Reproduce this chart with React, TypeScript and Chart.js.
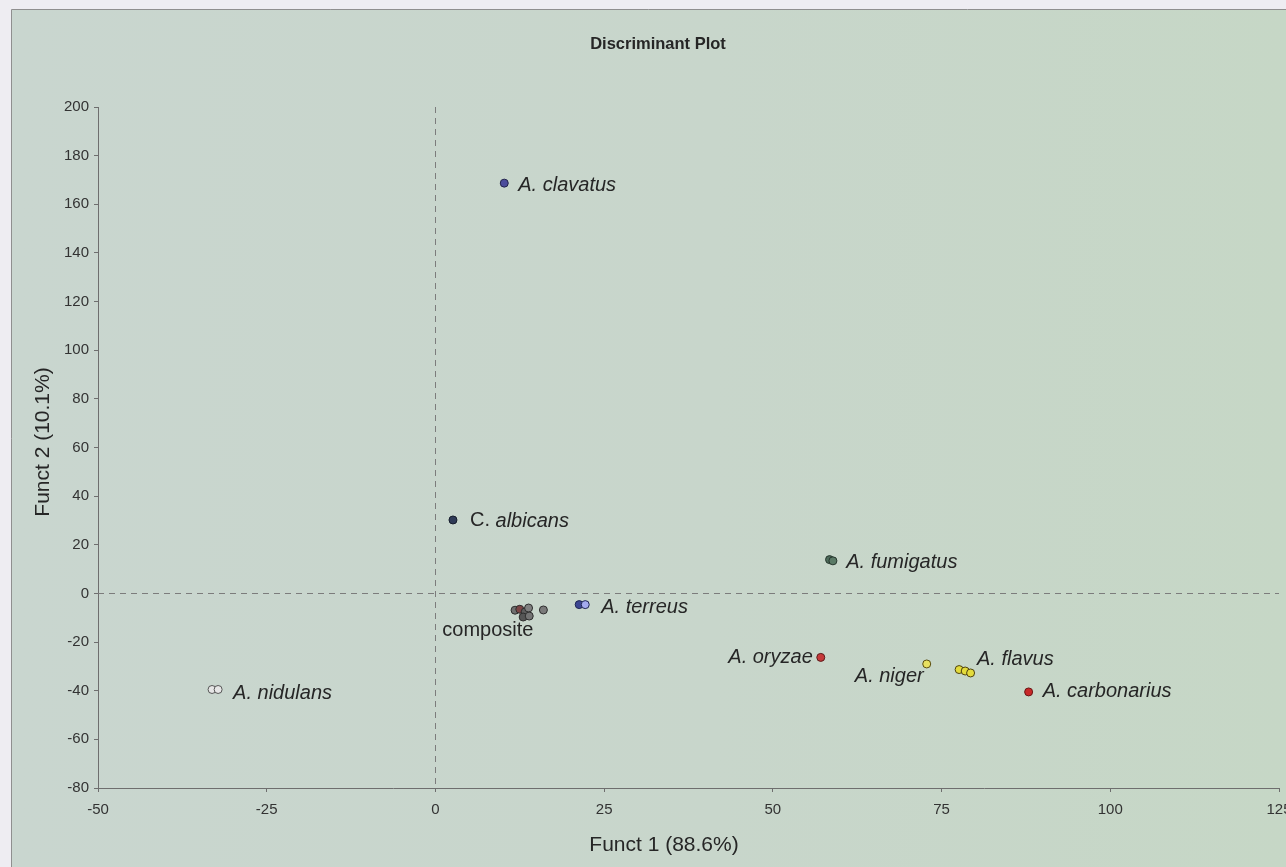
import { useEffect, useRef } from "react";
import { Chart, registerables } from "chart.js";

Chart.register(...registerables);

// Discriminant scores per group: Funct 1 (x) and Funct 2 (y)
const species = [
  "A. clavatus",
  "C. albicans",
  "A. fumigatus",
  "A. terreus",
  "composite",
  "A. nidulans",
  "A. oryzae",
  "A. niger",
  "A. flavus",
  "A. carbonarius",
];

const funct1: number[][] = [
  [10.2],
  [2.6],
  [58.4, 58.9],
  [21.3, 22.2],
  [11.8, 12.5, 13.3, 13.8, 13.0, 13.9, 16.0],
  [-33.1, -32.2],
  [57.1],
  [72.8],
  [77.6, 78.5, 79.3],
  [87.9],
];

const funct2: number[][] = [
  [168.7],
  [30.2],
  [13.9, 13.4],
  [-4.6, -4.6],
  [-6.9, -6.5, -7.6, -6.0, -9.7, -9.3, -6.8],
  [-39.5, -39.5],
  [-26.3],
  [-29.0],
  [-31.3, -31.9, -32.7],
  [-40.5],
];

const xTicks = [-50, -25, 0, 25, 50, 75, 100, 125];
const yTicks = [-80, -60, -40, -20, 0, 20, 40, 60, 80, 100, 120, 140, 160, 180, 200];

const chartTitle = "Discriminant Plot";
const xTitle = "Funct 1 (88.6%)";
const yTitle = "Funct 2 (10.1%)";

// Marker styling per group
const markerFill: string[][] = [
  ["#4b4c9c"],
  ["#2f3b57"],
  ["#4d6b5a", "#5a7a66"],
  ["#3c4692", "#a3aaee"],
  ["#6f6f6f", "#7a4646", "#5e5e5e", "#808080", "#555555", "#747474", "#7a7a7a"],
  ["#e6e6e6", "#e6e6e6"],
  ["#c63a3a"],
  ["#e8e060"],
  ["#e3db3c", "#e3db3c", "#e3db3c"],
  ["#c82828"],
];
const markerStroke = [
  "#23244c",
  "#161d2c",
  "#26362d",
  "#1f2655",
  "#2e2e2e",
  "#555555",
  "#5c1a1a",
  "#5a4c10",
  "#4e4210",
  "#6a1616",
];

// Label placement relative to each group's centroid (pixels)
const labelPlace: { dx: number; dy: number; align: CanvasTextAlign }[] = [
  { dx: 14, dy: 2, align: "left" },
  { dx: 17, dy: 1, align: "left" },
  { dx: 15, dy: 2.5, align: "left" },
  { dx: 19, dy: 2.5, align: "left" },
  { dx: -84, dy: 18.5, align: "left" },
  { dx: 18, dy: 4, align: "left" },
  { dx: -8, dy: 0.5, align: "right" },
  { dx: -3, dy: 12, align: "right" },
  { dx: 12, dy: -12, align: "left" },
  { dx: 14, dy: 0, align: "left" },
];

const FONT = "'Liberation Sans', Arial, Helvetica, sans-serif";
const TEXT = "#262626";

const backgroundPlugin = {
  id: "paperBackground",
  beforeDraw(chart: any) {
    const { ctx, width, height } = chart;
    ctx.save();
    ctx.fillStyle = "#eeedf2";
    ctx.fillRect(0, 0, width, height);
    const g = ctx.createLinearGradient(12, 0, width, 0);
    g.addColorStop(0, "#c9d6cf");
    g.addColorStop(0.55, "#c8d6cb");
    g.addColorStop(1, "#c6d7c6");
    ctx.fillStyle = g;
    ctx.fillRect(12, 10, width - 12, height - 10);
    ctx.strokeStyle = "#8f8f8f";
    ctx.lineWidth = 1;
    ctx.beginPath();
    ctx.moveTo(11.5, height);
    ctx.lineTo(11.5, 9.5);
    ctx.lineTo(width, 9.5);
    ctx.stroke();
    ctx.restore();
  },
};

const zeroLinesPlugin = {
  id: "zeroLines",
  beforeDatasetsDraw(chart: any) {
    const { ctx, chartArea, scales } = chart;
    const x0 = Math.round(scales.x.getPixelForValue(0)) + 0.5;
    const y0 = Math.round(scales.y.getPixelForValue(0)) + 0.5;
    ctx.save();
    ctx.strokeStyle = "#7c7c7c";
    ctx.lineWidth = 1;
    ctx.setLineDash([6, 5]);
    ctx.beginPath();
    ctx.moveTo(x0, chartArea.top);
    ctx.lineTo(x0, chartArea.bottom);
    ctx.moveTo(chartArea.left, y0);
    ctx.lineTo(chartArea.right, y0);
    ctx.stroke();
    ctx.restore();
  },
};

const labelsPlugin = {
  id: "groupLabels",
  afterDatasetsDraw(chart: any) {
    const { ctx } = chart;
    ctx.save();
    ctx.fillStyle = TEXT;
    ctx.textBaseline = "middle";
    species.forEach((name, i) => {
      const meta = chart.getDatasetMeta(i);
      const pts = meta.data;
      let cx = 0;
      let cy = 0;
      pts.forEach((p: any) => {
        cx += p.x;
        cy += p.y;
      });
      cx /= pts.length;
      cy /= pts.length;
      const place = labelPlace[i];
      const x = cx + place.dx;
      const y = cy + place.dy;
      const upright = name === "composite" ? name.length : name.startsWith("C. ") ? 3 : 0;
      const head = name.slice(0, upright);
      const tail = name.slice(upright);
      const fHead = `20px ${FONT}`;
      const fTail = `italic 20px ${FONT}`;
      ctx.font = fHead;
      const wHead = ctx.measureText(head).width;
      ctx.font = fTail;
      const wTail = ctx.measureText(tail).width;
      const total = wHead + wTail;
      let start = x;
      if (place.align === "right") start = x - total;
      if (place.align === "center") start = x - total / 2;
      ctx.textAlign = "left";
      ctx.font = fHead;
      ctx.fillText(head, start, y);
      ctx.font = fTail;
      ctx.fillText(tail, start + wHead, y);
    });
    ctx.restore();
  },
};

const titlesPlugin = {
  id: "plotTitles",
  afterDraw(chart: any) {
    const { ctx } = chart;
    ctx.save();
    ctx.fillStyle = TEXT;
    ctx.textBaseline = "middle";
    ctx.textAlign = "center";
    ctx.font = `bold 16.5px ${FONT}`;
    ctx.fillText(chartTitle, 658, 44);
    ctx.font = `21px ${FONT}`;
    ctx.fillText(xTitle, 664, 845);
    ctx.translate(43, 442);
    ctx.rotate(-Math.PI / 2);
    ctx.fillText(yTitle, 0, 0);
    ctx.restore();
  },
};

export default function App() {
  const canvasRef = useRef<HTMLCanvasElement | null>(null);

  useEffect(() => {
    document.body.style.margin = "0";
    const canvas = canvasRef.current;
    if (!canvas) return;

    const datasets = species.map((name, i) => ({
      label: name,
      data: funct1[i].map((v, j) => ({ x: v, y: funct2[i][j] })),
      backgroundColor: markerFill[i],
      borderColor: markerStroke[i],
      pointRadius: 4,
      pointBorderWidth: 1,
      showLine: false,
    }));

    const axisColor = "#6e6e6e";

    const chart = new Chart(canvas, {
      type: "scatter",
      data: { datasets },
      plugins: [backgroundPlugin, zeroLinesPlugin, labelsPlugin, titlesPlugin],
      options: {
        responsive: false,
        animation: false,
        layout: { padding: { left: 14, top: 107, right: 7, bottom: 0 } },
        plugins: {
          legend: { display: false },
          tooltip: { enabled: false },
          title: { display: false },
        },
        scales: {
          x: {
            type: "linear",
            min: xTicks[0],
            max: xTicks[xTicks.length - 1],
            afterBuildTicks: (s: any) => {
              s.ticks = xTicks.map((v) => ({ value: v }));
            },
            afterFit: (s: any) => {
              s.height = 79;
              s.paddingRight = 0;
              s.paddingLeft = 0;
            },
            grid: { drawOnChartArea: false, drawTicks: true, tickLength: 4, color: axisColor },
            border: { display: true, color: axisColor, width: 1 },
            ticks: {
              font: { family: FONT, size: 15 },
              color: "#333333",
              padding: 9,
              maxRotation: 0,
              autoSkip: false,
            },
          },
          y: {
            type: "linear",
            min: yTicks[0],
            max: yTicks[yTicks.length - 1],
            afterBuildTicks: (s: any) => {
              s.ticks = yTicks.map((v) => ({ value: v }));
            },
            afterFit: (s: any) => {
              s.width = 84;
            },
            grid: { drawOnChartArea: false, drawTicks: true, tickLength: 4, color: axisColor },
            border: { display: true, color: axisColor, width: 1 },
            ticks: {
              font: { family: FONT, size: 15 },
              color: "#333333",
              padding: 5,
              autoSkip: false,
            },
          },
        },
      } as any,
    });

    return () => chart.destroy();
  }, []);

  return (
    <div style={{ position: "absolute", left: 0, top: 0, width: 1286, height: 867 }}>
      <canvas ref={canvasRef} width={1286} height={867} style={{ display: "block" }} />
    </div>
  );
}
